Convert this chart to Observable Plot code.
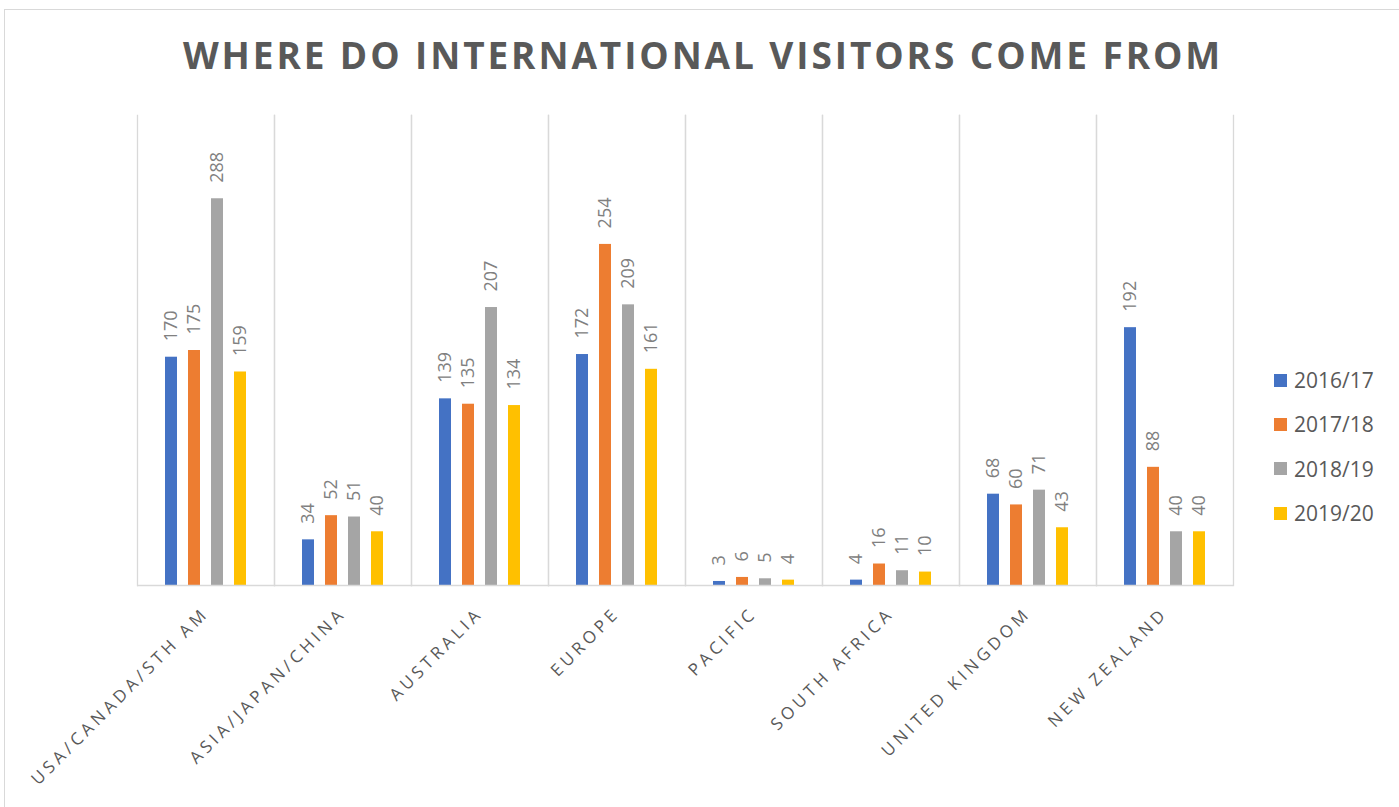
<!DOCTYPE html>
<html>
<head>
<meta charset="utf-8">
<script src="https://cdn.jsdelivr.net/npm/d3@7"></script>
<script src="https://cdn.jsdelivr.net/npm/@observablehq/plot@0.6"></script>
<style>
  html, body { margin: 0; padding: 0; background: #fff; }
  #wrap { position: relative; width: 1399px; height: 807px; overflow: hidden; font-family: "Open Sans", sans-serif; }
  #border { position: absolute; left: 4px; top: 9px; width: 1420px; height: 820px; border: 1.5px solid #d9d9d9; box-sizing: border-box; }
  #title { position: absolute; left: 0; top: 29px; width: 1406px; text-align: center; font-family: "Open Sans", sans-serif; font-weight: 700; font-size: 37px; letter-spacing: 2.9px; color: #595959; }
  #chart { position: absolute; left: 0; top: 0; }
  #legend { position: absolute; left: 1274px; top: 358px; font-family: "Open Sans", sans-serif; font-size: 21px; color: #595959; }
  .item { display: flex; align-items: center; height: 44.3px; }
  .sw { width: 13px; height: 13px; margin-right: 7px; }
  #chart g[aria-label="fx-axis tick label"] text { letter-spacing: 4px; }
</style>
</head>
<body>
<div id="wrap">
  <div id="border"></div>
  <div id="chart"></div>
  <div id="title"></div>
  <div id="legend"></div>
</div>
<script>
const title = "WHERE DO INTERNATIONAL VISITORS COME FROM";
const categories = ["USA/CANADA/STH AM", "ASIA/JAPAN/CHINA", "AUSTRALIA", "EUROPE", "PACIFIC", "SOUTH AFRICA", "UNITED KINGDOM", "NEW ZEALAND"];
const seriesNames = ["2016/17", "2017/18", "2018/19", "2019/20"];
const seriesColors = ["#4472C4", "#ED7D31", "#A5A5A5", "#FFC000"];
const v2016 = [170, 34, 139, 172, 3, 4, 68, 192];
const v2017 = [175, 52, 135, 254, 6, 16, 60, 88];
const v2018 = [288, 51, 207, 209, 5, 11, 71, 40];
const v2019 = [159, 40, 134, 161, 4, 10, 43, 40];
const seriesValues = [v2016, v2017, v2018, v2019];

const data = [];
categories.forEach((c, i) => {
  seriesNames.forEach((s, j) => {
    data.push({category: c, series: s, value: seriesValues[j][i]});
  });
});

document.getElementById("title").textContent = title;

const chart = Plot.plot({
  width: 1399,
  height: 807,
  marginLeft: 136,
  marginRight: 166,
  marginTop: 115,
  marginBottom: 222,
  style: {background: "transparent", overflow: "visible", fontFamily: "Open Sans, sans-serif"},
  fx: {domain: categories, padding: 0, label: null},
  x: {domain: seriesNames, paddingInner: 0.464, paddingOuter: 1.2, axis: null},
  y: {domain: [0, 350], axis: null},
  color: {domain: seriesNames, range: seriesColors},
  marks: [
    Plot.frame({anchor: "left", stroke: "#d9d9d9", strokeWidth: 1.3}),
    Plot.frame({anchor: "right", stroke: "#d9d9d9", strokeWidth: 1.3}),
    Plot.barY(data, {fx: "category", x: "series", y: "value", fill: "series"}),
    Plot.ruleY([0], {stroke: "#d9d9d9", strokeWidth: 1.5}),
    Plot.text(data, {fx: "category", x: "series", y: "value", text: d => String(d.value), rotate: -90, textAnchor: "start", dy: -16, fill: "#808080", fontSize: 18}),
    Plot.axisFx({anchor: "bottom", tickRotate: -45, tickSize: 0, tickPadding: 25, fontSize: 17, fill: "#595959", label: null})
  ]
});
document.getElementById("chart").appendChild(chart);

const legend = document.getElementById("legend");
seriesNames.forEach((s, j) => {
  const it = document.createElement("div");
  it.className = "item";
  const sw = document.createElement("div");
  sw.className = "sw";
  sw.style.background = seriesColors[j];
  const t = document.createElement("span");
  t.textContent = s;
  it.appendChild(sw);
  it.appendChild(t);
  legend.appendChild(it);
});
</script>
</body>
</html>
